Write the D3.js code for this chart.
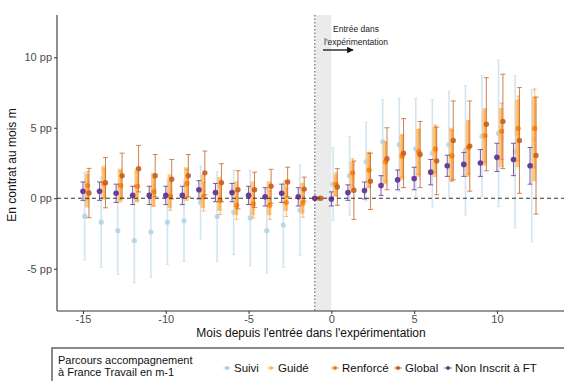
<!DOCTYPE html>
<html><head><meta charset="utf-8">
<script src="https://cdn.jsdelivr.net/npm/d3@7"></script>
<style>body{margin:0;background:#fff;}svg{display:block;font-family:"Liberation Sans",Arial,sans-serif;}</style>
</head><body>
<svg id="c" width="564" height="381"></svg>
<script>
const months = [-15,-14,-13,-12,-11,-10,-9,-8,-7,-6,-5,-4,-3,-2,-1,0,1,2,3,4,5,6,7,8,9,10,11,12];
const seriesNames = ["Suivi","Guidé","Renforcé","Global","Non Inscrit à FT"];
const suiviVal = [-1.27,-1.7,-2.3,-3.0,-2.4,-1.7,-1.6,-0.3,-1.3,-1.0,-1.4,-2.3,-1.9,-0.85,0,1.0,1.6,2.6,4.0,3.8,3.5,3.2,3.8,3.4,4.4,4.6,3.3,2.3];
const suiviHw  = [3.1,3.2,3.1,3.0,3.2,3.0,2.9,2.6,3.2,3.0,3.4,3.0,3.0,3.2,0,2.6,2.8,2.8,3.0,3.3,3.6,3.8,3.8,4.6,4.3,5.2,5.4,5.4];
const guideVal = [0.55,1.1,0.9,0.9,0.6,0.5,1.0,0.5,0.3,0.0,0.0,0.0,0.2,0.0,0,0.9,1.5,2.0,2.5,2.9,3.2,3.3,3.1,3.5,4.3,4.3,4.6,4.2];
const guideHw  = [1.2,1.2,1.2,1.2,1.2,1.2,1.2,1.2,1.2,1.2,1.2,1.2,1.1,1.1,0,0.8,1.1,1.3,1.5,1.6,1.7,1.8,1.9,2.0,2.0,2.1,2.4,3.0];
const renfVal  = [0.9,1.05,0.9,0.85,0.45,0.15,1.05,0.1,-0.15,-0.5,-0.4,-0.5,-0.3,-0.35,0,1.0,1.8,2.0,2.6,3.0,3.3,3.5,3.0,3.6,4.45,4.75,4.95,4.95];
const renfHw   = [1.0,1.0,1.0,1.0,1.0,1.0,1.0,1.0,1.0,1.0,1.0,1.0,1.0,1.0,0,0.8,1.0,1.2,1.4,1.5,1.6,1.7,1.8,1.9,1.9,2.0,2.3,2.8];
const globVal  = [0.37,1.1,1.6,2.1,1.6,1.35,1.6,1.8,1.1,0.6,0.6,0.85,1.15,0.65,0,0.8,0.57,1.2,2.8,3.2,3.1,2.65,4.1,3.7,5.25,5.45,4.1,3.03];
const globHw   = [1.75,1.78,1.6,1.65,1.5,1.4,1.5,1.55,1.35,1.35,1.25,1.2,1.05,0.85,0,1.3,2.07,2.0,2.2,2.45,2.35,2.4,2.8,3.2,3.3,3.35,3.75,4.15];
const niVal    = [0.5,0.5,0.35,0.2,0.2,0.2,0.2,0.6,0.4,0.4,0.2,0.1,0.35,0.1,0,-0.05,0.4,0.55,0.9,1.3,1.4,1.85,2.3,2.4,2.5,2.9,2.75,2.3];
const niHw     = [0.65,0.65,0.65,0.65,0.65,0.65,0.65,0.65,0.65,0.65,0.65,0.65,0.65,0.65,0,0.5,0.55,0.6,0.7,0.7,0.8,0.9,0.75,0.85,0.95,1.0,1.15,1.3];
const yTicks = [-5,0,5,10];
const xTicks = [-15,-10,-5,0,5,10];

const svg = d3.select("#c");
const x = d3.scaleLinear().domain([-16.57,14.05]).range([57,564]);
const y = d3.scaleLinear().domain([-8,13]).range([311,15]);

svg.append("rect").attr("x",x(-1)).attr("y",15).attr("width",x(0)-x(-1)).attr("height",311-15).attr("fill","#ebebeb");
svg.append("line").attr("x1",x(-1)).attr("x2",x(-1)).attr("y1",15).attr("y2",311)
  .attr("stroke","#555").attr("stroke-width",1).attr("stroke-dasharray","1.5,2");

const series = [
  {name:"Suivi", val:suiviVal, hw:suiviHw, off:0.1, color:"#a6cee3", lw:1.6, lop:0.5, cap:4, capop:0.35, r:2.6, pop:0.75},
  {name:"Guidé", val:guideVal, hw:guideHw, off:0.24, color:"#fdbf6f", lw:4.5, lop:0.85, cap:0, capop:0, r:2.6, pop:1},
  {name:"Renforcé", val:renfVal, hw:renfHw, off:0.28, color:"#ff7f00", lw:1, lop:0.55, cap:4, capop:0.55, r:2.6, pop:0.85},
  {name:"Global", val:globVal, hw:globHw, off:0.36, color:"#c65f1f", lw:1, lop:0.8, cap:5, capop:0.75, r:2.7, pop:0.9},
  {name:"Non Inscrit à FT", val:niVal, hw:niHw, off:0, color:"#6a3d9a", lw:1, lop:0.85, cap:5, capop:0.85, r:2.8, pop:1}
];

series.forEach(s=>{
  const g = svg.append("g");
  const d = months.map((m,i)=>({m, v:s.val[i], h:s.hw[i]}));
  g.selectAll("line.r").data(d.filter(e=>e.h>0)).join("line")
    .attr("x1",e=>x(e.m+s.off)).attr("x2",e=>x(e.m+s.off))
    .attr("y1",e=>y(e.v-e.h)).attr("y2",e=>y(e.v+e.h))
    .attr("stroke",s.color).attr("stroke-width",s.lw).attr("stroke-opacity",s.lop);
  if (s.cap>0) {
    ["lo","hi"].forEach(k=>{
      g.selectAll("line.c"+k).data(d.filter(e=>e.h>0)).join("line")
        .attr("x1",e=>x(e.m+s.off)-s.cap/2).attr("x2",e=>x(e.m+s.off)+s.cap/2)
        .attr("y1",e=>y(k==="lo"?e.v-e.h:e.v+e.h)).attr("y2",e=>y(k==="lo"?e.v-e.h:e.v+e.h))
        .attr("stroke",s.color).attr("stroke-width",1).attr("stroke-opacity",s.capop);
    });
  }
  g.selectAll("circle").data(d).join("circle")
    .attr("cx",e=>x(e.m+s.off)).attr("cy",e=>y(e.v)).attr("r",s.r)
    .attr("fill",s.color).attr("fill-opacity",s.pop);
});

svg.append("line").attr("x1",57).attr("x2",564).attr("y1",y(0)).attr("y2",y(0))
  .attr("stroke","#333").attr("stroke-width",1).attr("stroke-dasharray","4,3");

const yAxis = svg.append("g").attr("transform","translate(57,0)")
  .call(d3.axisLeft(y).tickValues(yTicks).tickSize(3).tickPadding(2).tickFormat(d=>d+" pp"));
const xAxis = svg.append("g").attr("transform","translate(0,311)")
  .call(d3.axisBottom(x).tickValues(xTicks).tickSize(3).tickPadding(1).tickFormat(d=>d));
[yAxis,xAxis].forEach(a=>{
  a.select(".domain").attr("stroke","#333").attr("stroke-width",1.1);
  a.selectAll(".tick line").attr("stroke","#333");
  a.selectAll(".tick text").attr("fill","#4d4d4d").style("font-size","11px").style("font-family","Liberation Sans, Arial");
});
yAxis.select(".domain").attr("d","M0,15V311");
xAxis.select(".domain").attr("d","M57,0H564");

svg.append("text").attr("x",311).attr("y",337).attr("text-anchor","middle")
  .style("font-size","12px").attr("fill","#111").text("Mois depuis l'entrée dans l'expérimentation");
svg.append("text").attr("transform","translate(16,165) rotate(-90)").attr("text-anchor","middle")
  .style("font-size","12px").attr("fill","#111").text("En contrat au mois m");

svg.append("text").attr("x",356).attr("y",32).attr("text-anchor","middle").style("font-size","8.5px").attr("fill","#222").text("Entrée dans");
svg.append("text").attr("x",356).attr("y",45).attr("text-anchor","middle").style("font-size","8.5px").attr("fill","#222").text("l'expérimentation");
svg.append("defs").append("marker").attr("id","ah").attr("viewBox","0 0 10 10").attr("refX",9).attr("refY",5)
  .attr("markerWidth",5).attr("markerHeight",5).attr("orient","auto")
  .append("path").attr("d","M0,0L10,5L0,10z").attr("fill","#111");
svg.append("line").attr("x1",323).attr("x2",353).attr("y1",50).attr("y2",50)
  .attr("stroke","#111").attr("stroke-width",1.3).attr("marker-end","url(#ah)");

const lg = svg.append("g");
lg.append("rect").attr("x",52).attr("y",348).attr("width",530).attr("height",50)
  .attr("fill","#fff").attr("stroke","#666").attr("stroke-width",1.5);
lg.append("text").attr("x",58).attr("y",364).style("font-size","11px").attr("fill","#111").text("Parcours accompagnement");
lg.append("text").attr("x",58).attr("y",376).style("font-size","11px").attr("fill","#111").text(" à France Travail en m-1");
const legX = [227,271,335,398,448];
series.forEach((s,i)=>{
  const cx = legX[i];
  lg.append("line").attr("x1",cx-4).attr("x2",cx+4).attr("y1",368).attr("y2",368)
    .attr("stroke",s.color).attr("stroke-width",1).attr("stroke-opacity",0.8);
  lg.append("circle").attr("cx",cx).attr("cy",368).attr("r",2).attr("fill",s.color);
  lg.append("text").attr("x",cx+7).attr("y",372).style("font-size","11.5px").attr("fill","#111").text(s.name);
});
</script>
</body></html>
